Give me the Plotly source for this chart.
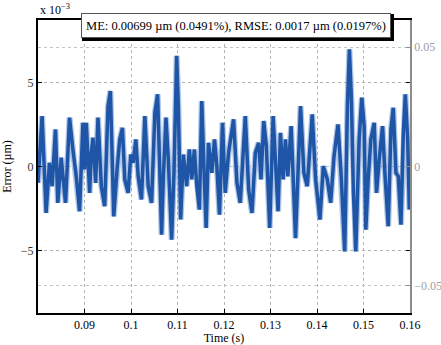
import plotly.graph_objects as go

# time (s) and error (x1e-3 µm)
time_s = [0.0800, 0.08088, 0.08174, 0.08246, 0.08304, 0.08376, 0.08426, 0.08498, 0.08592, 0.08678,
          0.08750, 0.08822, 0.08894, 0.08966, 0.09002, 0.09038, 0.09110, 0.09146, 0.09182, 0.09240,
          0.09290, 0.09362, 0.09434, 0.09506, 0.09557, 0.09629, 0.09700, 0.09758, 0.09816, 0.09866,
          0.09938, 0.09996, 0.10046, 0.10104, 0.10154, 0.10226, 0.10298, 0.10370, 0.10442, 0.10514,
          0.10572, 0.10658, 0.10694, 0.10752, 0.10802, 0.10874, 0.10924, 0.10982, 0.11018, 0.11068,
          0.11126, 0.11198, 0.11256, 0.11306, 0.11363, 0.11414, 0.11471, 0.11522, 0.11572, 0.11616,
          0.11666, 0.11738, 0.11796, 0.11846, 0.11903, 0.11968, 0.12026, 0.12098, 0.12206, 0.12278,
          0.12350, 0.12458, 0.12530, 0.12602, 0.12674, 0.12746, 0.12796, 0.12854, 0.12911, 0.12983,
          0.13056, 0.13106, 0.13163, 0.13214, 0.13271, 0.13322, 0.13372, 0.13444, 0.13538, 0.13646,
          0.13718, 0.13790, 0.13898, 0.13970, 0.14063, 0.14135, 0.14222, 0.14294, 0.14366, 0.14452,
          0.14524, 0.14596, 0.14654, 0.14697, 0.14740, 0.14783, 0.14834, 0.14906, 0.14963, 0.15014,
          0.15050, 0.15100, 0.15158, 0.15230, 0.15280, 0.15338, 0.15410, 0.15460, 0.15532, 0.15590,
          0.15640, 0.15698, 0.15748, 0.15806, 0.15856, 0.15899, 0.15950, 0.15986]
error_e3 = [-0.97, 2.99, -2.76, 0.22, -1.17, 2.20, -2.16, 0.52, -2.16, 2.90,
            1.01, -0.58, -2.66, 2.60, -0.18, 2.60, -1.57, 0.81, 1.71, -0.97,
            2.90, -1.17, -2.36, 3.59, 4.48, -2.96, -0.18, 1.61, 2.30, -0.77,
            -1.57, 0.71, 0.22, 1.61, -0.58, -1.96, 2.99, -1.17, -2.16, 3.19,
            4.29, -4.05, -0.77, 2.90, 0.42, -4.35, -0.38, 6.57, 3.59, -3.15,
            0.71, -1.17, 1.01, -0.77, 1.01, -1.17, -2.56, 3.89, -0.38, -3.65,
            1.41, -0.38, 1.61, 0.02, -2.86, 2.60, -1.57, 0.81, 2.80, -0.97,
            -2.16, 2.99, -1.37, -2.76, 0.81, 1.41, -0.77, 2.70, 1.21, -3.65,
            2.99, 0.02, -2.66, 2.00, -0.77, 1.61, -0.58, 2.40, -4.25, 3.59,
            -0.38, -1.17, 3.10, -0.77, -3.15, 0.02, -0.77, -2.16, 0.61, 2.50,
            -0.77, -5.04, 3.59, 6.96, 3.99, -1.57, -5.04, 1.61, 4.09, 2.40,
            -3.75, -0.77, 1.61, 2.60, -1.57, 0.42, 2.40, -0.38, -3.55, 2.20,
            3.49, -0.38, -0.58, -3.45, 2.00, 4.29, 1.61, -2.56]

x_ticks = [0.09, 0.10, 0.11, 0.12, 0.13, 0.14, 0.15, 0.16]
x_ticklabels = ["0.09", "0.1", "0.11", "0.12", "0.13", "0.14", "0.15", "0.16"]
y_ticks = [-5, 0, 5]
y_ticklabels = ["\u22125", "0", "5"]
y2_ticks = [-0.05, 0, 0.05]
y2_ticklabels = ["\u22120.05", "0", "0.05"]
stats_text = "ME: 0.00699 \u00b5m (0.0491%), RMSE: 0.0017 \u00b5m (0.0197%)"

Y_RANGE = [-8.7, 8.7]
Y2_RANGE = [-0.06144, 0.06144]
FONT = "Liberation Serif"
GRID = "#b4b4b4"

fig = go.Figure()
fig.add_trace(go.Scatter(x=time_s, y=error_e3, mode="lines",
                         line=dict(color="rgba(110,150,210,0.55)", width=6),
                         hoverinfo="skip", showlegend=False))
fig.add_trace(go.Scatter(x=time_s, y=error_e3, mode="lines",
                         line=dict(color="#1f55a6", width=3.5), showlegend=False))
# invisible trace for secondary axis
fig.add_trace(go.Scatter(x=[time_s[0]], y=[0], yaxis="y2", mode="lines",
                         line=dict(width=0), hoverinfo="skip", showlegend=False))

fig.update_layout(
    width=441, height=345,
    margin=dict(l=38, r=31, t=20, b=32),
    paper_bgcolor="white", plot_bgcolor="white",
    font=dict(family=FONT, size=12, color="black"),
    xaxis=dict(range=[0.08, 0.16], tickvals=x_ticks, ticktext=x_ticklabels,
               automargin=False,
               showgrid=True, gridcolor=GRID, griddash="dot", gridwidth=1,
               zeroline=False, showline=True, linecolor="black", linewidth=2,
               mirror=True, ticks="inside", ticklen=4, tickcolor="black",
               title=dict(text="Time (s)", standoff=0, font=dict(family=FONT, size=12)),
               tickfont=dict(family=FONT, size=12, color="black")),
    yaxis=dict(range=Y_RANGE, tickvals=y_ticks, ticktext=y_ticklabels,
               automargin=False,
               showgrid=True, gridcolor=GRID, griddash="dot", gridwidth=1,
               zeroline=False, showline=True, linecolor="black", linewidth=2,
               mirror="ticks", ticks="inside", ticklen=4, tickcolor="black",
               title=dict(text="Error (\u00b5m)", standoff=8, font=dict(family=FONT, size=12)),
               tickfont=dict(family=FONT, size=12, color="#333333")),
    yaxis2=dict(range=Y2_RANGE, tickvals=y2_ticks, ticktext=y2_ticklabels,
                overlaying="y", side="right", automargin=False,
                showgrid=True, gridcolor="#c4c4c4", griddash="dot", gridwidth=1,
                zeroline=False, showline=True, linecolor="#8c8c8c", linewidth=1.5,
                ticks="inside", ticklen=4, tickcolor="#8c8c8c",
                tickfont=dict(family=FONT, size=12, color="#a0a0a0")),
)

W = 441 - 38 - 31
H = 345 - 20 - 32
def px(x):
    return (x - 38) / W
def py(y):
    return (345 - 32 - y) / H

# shadow behind the stats box
fig.add_shape(type="rect", xref="paper", yref="paper",
              x0=px(82), x1=px(394), y0=py(41), y1=py(14),
              fillcolor="black", line=dict(width=0), layer="above")
fig.add_annotation(text=stats_text, xref="paper", yref="paper",
                   x=px(236), y=py(25.5), xanchor="center", yanchor="middle",
                   showarrow=False, width=306, height=21,
                   bgcolor="white", bordercolor="#555555", borderwidth=1,
                   font=dict(family=FONT, size=12.5, color="black"))
fig.add_annotation(text="x 10<sup>\u22123</sup>", xref="paper", yref="paper",
                   x=0, y=1, xanchor="left", yanchor="bottom", yshift=1,
                   showarrow=False, font=dict(family=FONT, size=12, color="black"))

fig.write_html("out.html", config={"displayModeBar": False},
               post_script="document.body.style.margin='0px';")
